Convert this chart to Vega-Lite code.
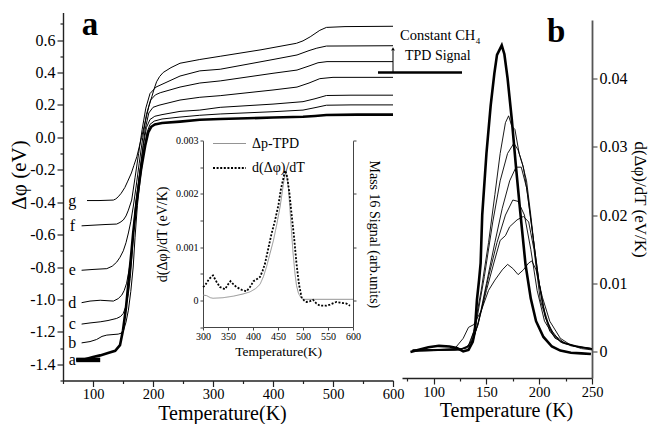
{
  "$schema": "https://vega.github.io/schema/vega-lite/v6.json",
  "width": 330,
  "height": 368,
  "autosize": {"type": "none"},
  "padding": {"left": 63, "top": 12.5, "right": 256, "bottom": 43.5},
  "config": {
    "view": {"stroke": null},
    "font": "Liberation Serif",
    "axis": {"labelFont": "Liberation Serif", "titleFont": "Liberation Serif", "labelColor": "#000", "titleColor": "#000", "titleFontWeight": "normal", "domainColor": "#222", "tickColor": "#222", "grid": false, "labelFlush": false, "labelOverlap": false, "domainWidth": 1.4, "tickWidth": 1.2},
    "text": {"font": "Liberation Serif", "color": "#000"},
    "legend": {"labelFont": "Liberation Serif", "labelColor": "#000"}
  },
  "datasets": {
    "dphi": [
      {"c":"a0","T":72,"v":-1.373},{"c":"a0","T":112,"v":-1.373},
      {"c":"a","T":72,"v":-1.372},{"c":"a","T":85,"v":-1.37},{"c":"a","T":100,"v":-1.355},{"c":"a","T":112,"v":-1.345},{"c":"a","T":125,"v":-1.33},{"c":"a","T":137,"v":-1.317},{"c":"a","T":145,"v":-1.282},{"c":"a","T":150,"v":-1.19},{"c":"a","T":155,"v":-1.05},{"c":"a","T":159,"v":-0.9},{"c":"a","T":163,"v":-0.75},{"c":"a","T":167,"v":-0.59},{"c":"a","T":173,"v":-0.387},{"c":"a","T":180,"v":-0.2},{"c":"a","T":187,"v":-0.05},{"c":"a","T":192,"v":0.03},{"c":"a","T":197,"v":0.065},{"c":"a","T":203,"v":0.08},{"c":"a","T":215,"v":0.088},{"c":"a","T":245,"v":0.097},{"c":"a","T":278,"v":0.108},{"c":"a","T":312,"v":0.113},{"c":"a","T":400,"v":0.122},{"c":"a","T":450,"v":0.127},{"c":"a","T":470,"v":0.132},{"c":"a","T":489,"v":0.138},{"c":"a","T":540,"v":0.14},{"c":"a","T":600,"v":0.14},
      {"c":"b","T":81,"v":-1.268},{"c":"b","T":95,"v":-1.26},{"c":"b","T":106,"v":-1.247},{"c":"b","T":115,"v":-1.228},{"c":"b","T":123,"v":-1.22},{"c":"b","T":135,"v":-1.216},{"c":"b","T":142,"v":-1.214},{"c":"b","T":147,"v":-1.208},{"c":"b","T":151,"v":-1.19},{"c":"b","T":155,"v":-1.14},{"c":"b","T":159,"v":-1.066},{"c":"b","T":163,"v":-0.95},{"c":"b","T":167,"v":-0.8},{"c":"b","T":170,"v":-0.62},{"c":"b","T":174,"v":-0.42},{"c":"b","T":179,"v":-0.25},{"c":"b","T":185,"v":-0.08},{"c":"b","T":190,"v":0.03},{"c":"b","T":195,"v":0.08},{"c":"b","T":202,"v":0.1},{"c":"b","T":215,"v":0.113},{"c":"b","T":245,"v":0.125},{"c":"b","T":278,"v":0.136},{"c":"b","T":312,"v":0.144},{"c":"b","T":400,"v":0.158},{"c":"b","T":450,"v":0.168},{"c":"b","T":470,"v":0.183},{"c":"b","T":489,"v":0.198},{"c":"b","T":530,"v":0.2},{"c":"b","T":600,"v":0.2},
      {"c":"c","T":81,"v":-1.152},{"c":"c","T":95,"v":-1.145},{"c":"c","T":112,"v":-1.138},{"c":"c","T":125,"v":-1.13},{"c":"c","T":139.5,"v":-1.117},{"c":"c","T":146,"v":-1.105},{"c":"c","T":150.5,"v":-1.086},{"c":"c","T":155,"v":-1.04},{"c":"c","T":159,"v":-0.963},{"c":"c","T":162,"v":-0.87},{"c":"c","T":164.5,"v":-0.757},{"c":"c","T":168,"v":-0.56},{"c":"c","T":172,"v":-0.4},{"c":"c","T":178,"v":-0.22},{"c":"c","T":184,"v":-0.05},{"c":"c","T":189,"v":0.06},{"c":"c","T":195,"v":0.11},{"c":"c","T":203,"v":0.13},{"c":"c","T":215,"v":0.14},{"c":"c","T":245,"v":0.16},{"c":"c","T":278,"v":0.168},{"c":"c","T":312,"v":0.185},{"c":"c","T":400,"v":0.205},{"c":"c","T":450,"v":0.22},{"c":"c","T":470,"v":0.238},{"c":"c","T":489,"v":0.258},{"c":"c","T":530,"v":0.26},{"c":"c","T":600,"v":0.26},
      {"c":"d","T":81,"v":-1.02},{"c":"d","T":95,"v":-1.01},{"c":"d","T":112,"v":-1.005},{"c":"d","T":125,"v":-1.008},{"c":"d","T":134,"v":-1.01},{"c":"d","T":142,"v":-0.995},{"c":"d","T":148,"v":-0.973},{"c":"d","T":152,"v":-0.945},{"c":"d","T":156,"v":-0.9},{"c":"d","T":160,"v":-0.82},{"c":"d","T":164.5,"v":-0.716},{"c":"d","T":167,"v":-0.6},{"c":"d","T":170,"v":-0.45},{"c":"d","T":175,"v":-0.3},{"c":"d","T":181,"v":-0.12},{"c":"d","T":187,"v":0.05},{"c":"d","T":193,"v":0.15},{"c":"d","T":200,"v":0.185},{"c":"d","T":210,"v":0.198},{"c":"d","T":245,"v":0.23},{"c":"d","T":278,"v":0.247},{"c":"d","T":312,"v":0.257},{"c":"d","T":400,"v":0.292},{"c":"d","T":440,"v":0.31},{"c":"d","T":460,"v":0.335},{"c":"d","T":478,"v":0.362},{"c":"d","T":500,"v":0.37},{"c":"d","T":600,"v":0.37},
      {"c":"e","T":81,"v":-0.82},{"c":"e","T":100,"v":-0.815},{"c":"e","T":123,"v":-0.81},{"c":"e","T":132,"v":-0.795},{"c":"e","T":139.5,"v":-0.77},{"c":"e","T":145,"v":-0.74},{"c":"e","T":150.5,"v":-0.7},{"c":"e","T":155,"v":-0.65},{"c":"e","T":159,"v":-0.59},{"c":"e","T":163,"v":-0.52},{"c":"e","T":167,"v":-0.43},{"c":"e","T":172,"v":-0.3},{"c":"e","T":177,"v":-0.16},{"c":"e","T":183,"v":0.0},{"c":"e","T":189,"v":0.14},{"c":"e","T":196,"v":0.23},{"c":"e","T":204,"v":0.262},{"c":"e","T":212,"v":0.275},{"c":"e","T":245,"v":0.31},{"c":"e","T":278,"v":0.335},{"c":"e","T":312,"v":0.348},{"c":"e","T":400,"v":0.395},{"c":"e","T":440,"v":0.415},{"c":"e","T":460,"v":0.44},{"c":"e","T":475,"v":0.46},{"c":"e","T":490,"v":0.467},{"c":"e","T":600,"v":0.467},
      {"c":"f","T":81,"v":-0.546},{"c":"f","T":100,"v":-0.542},{"c":"f","T":120,"v":-0.538},{"c":"f","T":139.5,"v":-0.535},{"c":"f","T":145,"v":-0.525},{"c":"f","T":150.5,"v":-0.51},{"c":"f","T":155,"v":-0.485},{"c":"f","T":159,"v":-0.449},{"c":"f","T":164.5,"v":-0.387},{"c":"f","T":170,"v":-0.25},{"c":"f","T":176,"v":-0.1},{"c":"f","T":182,"v":0.05},{"c":"f","T":188,"v":0.18},{"c":"f","T":195,"v":0.27},{"c":"f","T":205,"v":0.31},{"c":"f","T":245,"v":0.378},{"c":"f","T":278,"v":0.41},{"c":"f","T":312,"v":0.42},{"c":"f","T":400,"v":0.48},{"c":"f","T":440,"v":0.508},{"c":"f","T":460,"v":0.535},{"c":"f","T":473,"v":0.55},{"c":"f","T":489,"v":0.563},{"c":"f","T":600,"v":0.565},
      {"c":"g","T":90,"v":-0.39},{"c":"g","T":110,"v":-0.39},{"c":"g","T":134,"v":-0.387},{"c":"g","T":138,"v":-0.38},{"c":"g","T":142,"v":-0.367},{"c":"g","T":147,"v":-0.345},{"c":"g","T":153,"v":-0.31},{"c":"g","T":158,"v":-0.27},{"c":"g","T":164,"v":-0.22},{"c":"g","T":168,"v":-0.175},{"c":"g","T":173,"v":-0.12},{"c":"g","T":177,"v":-0.06},{"c":"g","T":181,"v":0.0},{"c":"g","T":185,"v":0.065},{"c":"g","T":189,"v":0.127},{"c":"g","T":193,"v":0.19},{"c":"g","T":198,"v":0.25},{"c":"g","T":202,"v":0.3},{"c":"g","T":206,"v":0.343},{"c":"g","T":211,"v":0.375},{"c":"g","T":217,"v":0.4},{"c":"g","T":230,"v":0.43},{"c":"g","T":245,"v":0.457},{"c":"g","T":278,"v":0.48},{"c":"g","T":312,"v":0.5},{"c":"g","T":380,"v":0.54},{"c":"g","T":439,"v":0.58},{"c":"g","T":450,"v":0.595},{"c":"g","T":462,"v":0.62},{"c":"g","T":470,"v":0.64},{"c":"g","T":478,"v":0.66},{"c":"g","T":489,"v":0.678},{"c":"g","T":520,"v":0.683},{"c":"g","T":600,"v":0.685}
    ],
    "inset": [
      {"s":"Δp-TPD","T":300,"v":0.0001},{"s":"Δp-TPD","T":307,"v":0.00009},{"s":"Δp-TPD","T":315,"v":0.00005},{"s":"Δp-TPD","T":320,"v":0.00004},{"s":"Δp-TPD","T":340,"v":0.00005},{"s":"Δp-TPD","T":361,"v":0.00008},{"s":"Δp-TPD","T":380,"v":0.00012},{"s":"Δp-TPD","T":394,"v":0.00016},{"s":"Δp-TPD","T":405,"v":0.00022},{"s":"Δp-TPD","T":414,"v":0.0003},{"s":"Δp-TPD","T":421,"v":0.00045},{"s":"Δp-TPD","T":427,"v":0.00063},{"s":"Δp-TPD","T":434,"v":0.00088},{"s":"Δp-TPD","T":441,"v":0.00113},{"s":"Δp-TPD","T":448,"v":0.00145},{"s":"Δp-TPD","T":454,"v":0.00175},{"s":"Δp-TPD","T":458,"v":0.002},{"s":"Δp-TPD","T":461,"v":0.0022},{"s":"Δp-TPD","T":465,"v":0.0024},{"s":"Δp-TPD","T":468,"v":0.0023},{"s":"Δp-TPD","T":471,"v":0.0021},{"s":"Δp-TPD","T":474,"v":0.0017},{"s":"Δp-TPD","T":477,"v":0.0013},{"s":"Δp-TPD","T":480,"v":0.0009},{"s":"Δp-TPD","T":484,"v":0.0005},{"s":"Δp-TPD","T":487,"v":0.00028},{"s":"Δp-TPD","T":491,"v":0.00013},{"s":"Δp-TPD","T":496,"v":0.00005},{"s":"Δp-TPD","T":501,"v":0.00002},{"s":"Δp-TPD","T":550,"v":0.00002},{"s":"Δp-TPD","T":600,"v":0.00002},
      {"s":"d(Δφ)/dT","T":300,"v":0.00025},{"s":"d(Δφ)/dT","T":304,"v":0.00028},{"s":"d(Δφ)/dT","T":312,"v":0.0004},{"s":"d(Δφ)/dT","T":320,"v":0.00047},{"s":"d(Δφ)/dT","T":327,"v":0.00035},{"s":"d(Δφ)/dT","T":334,"v":0.00025},{"s":"d(Δφ)/dT","T":344,"v":0.00021},{"s":"d(Δφ)/dT","T":350,"v":0.0003},{"s":"d(Δφ)/dT","T":355,"v":0.00036},{"s":"d(Δφ)/dT","T":361,"v":0.0003},{"s":"d(Δφ)/dT","T":367,"v":0.00025},{"s":"d(Δφ)/dT","T":377,"v":0.0002},{"s":"d(Δφ)/dT","T":387,"v":0.00017},{"s":"d(Δφ)/dT","T":394,"v":0.00025},{"s":"d(Δφ)/dT","T":401,"v":0.00036},{"s":"d(Δφ)/dT","T":408,"v":0.0004},{"s":"d(Δφ)/dT","T":414,"v":0.00044},{"s":"d(Δφ)/dT","T":419,"v":0.00055},{"s":"d(Δφ)/dT","T":424,"v":0.00069},{"s":"d(Δφ)/dT","T":430,"v":0.00095},{"s":"d(Δφ)/dT","T":437,"v":0.00125},{"s":"d(Δφ)/dT","T":444,"v":0.0015},{"s":"d(Δφ)/dT","T":451,"v":0.0018},{"s":"d(Δφ)/dT","T":456,"v":0.0021},{"s":"d(Δφ)/dT","T":461,"v":0.0023},{"s":"d(Δφ)/dT","T":464,"v":0.00244},{"s":"d(Δφ)/dT","T":467,"v":0.00238},{"s":"d(Δφ)/dT","T":469,"v":0.00228},{"s":"d(Δφ)/dT","T":473,"v":0.002},{"s":"d(Δφ)/dT","T":477,"v":0.00163},{"s":"d(Δφ)/dT","T":482,"v":0.0012},{"s":"d(Δφ)/dT","T":487,"v":0.00069},{"s":"d(Δφ)/dT","T":492,"v":0.0003},{"s":"d(Δφ)/dT","T":497,"v":0.00006},{"s":"d(Δφ)/dT","T":502,"v":0.0},{"s":"d(Δφ)/dT","T":507,"v":-0.00003},{"s":"d(Δφ)/dT","T":513,"v":-0.00002},{"s":"d(Δφ)/dT","T":520,"v":0.00001},{"s":"d(Δφ)/dT","T":527,"v":-0.00006},{"s":"d(Δφ)/dT","T":534,"v":-0.0001},{"s":"d(Δφ)/dT","T":541,"v":-0.0001},{"s":"d(Δφ)/dT","T":547,"v":-0.0001},{"s":"d(Δφ)/dT","T":554,"v":-0.00008},{"s":"d(Δφ)/dT","T":561,"v":-0.00005},{"s":"d(Δφ)/dT","T":567,"v":-0.00003},{"s":"d(Δφ)/dT","T":574,"v":-0.00004},{"s":"d(Δφ)/dT","T":580,"v":-0.00005},{"s":"d(Δφ)/dT","T":587,"v":-0.00006},{"s":"d(Δφ)/dT","T":594,"v":-0.0001}
    ],
    "deriv": [
      {"c":"a","T":78,"v":0.0},{"c":"a","T":85,"v":0.0003},{"c":"a","T":95,"v":0.0007},{"c":"a","T":105,"v":0.0009},{"c":"a","T":115,"v":0.0008},{"c":"a","T":122,"v":0.0006},{"c":"a","T":128,"v":0.0001},{"c":"a","T":133,"v":0.0003},{"c":"a","T":137,"v":0.0015},{"c":"a","T":139,"v":0.003},{"c":"a","T":141,"v":0.0076},{"c":"a","T":143,"v":0.0105},{"c":"a","T":144.5,"v":0.013},{"c":"a","T":146,"v":0.02},{"c":"a","T":150,"v":0.029},{"c":"a","T":154,"v":0.036},{"c":"a","T":157.5,"v":0.0407},{"c":"a","T":160,"v":0.0434},{"c":"a","T":164.5,"v":0.0448},{"c":"a","T":167,"v":0.0435},{"c":"a","T":170,"v":0.04},{"c":"a","T":174,"v":0.034},{"c":"a","T":178,"v":0.027},{"c":"a","T":182,"v":0.0205},{"c":"a","T":187,"v":0.0128},{"c":"a","T":192,"v":0.0078},{"c":"a","T":197,"v":0.0045},{"c":"a","T":204,"v":0.0022},{"c":"a","T":212,"v":0.0008},{"c":"a","T":220,"v":0.0002},{"c":"a","T":230,"v":-0.0001},{"c":"a","T":240,"v":-0.0002},{"c":"a","T":249,"v":-0.0003},
      {"c":"b","T":80,"v":0.0002},{"c":"b","T":100,"v":0.0003},{"c":"b","T":120,"v":0.0003},{"c":"b","T":132,"v":0.0006},{"c":"b","T":138,"v":0.003},{"c":"b","T":145,"v":0.009},{"c":"b","T":152,"v":0.016},{"c":"b","T":158,"v":0.023},{"c":"b","T":163,"v":0.029},{"c":"b","T":168,"v":0.0335},{"c":"b","T":171,"v":0.0345},{"c":"b","T":174,"v":0.033},{"c":"b","T":177,"v":0.0325},{"c":"b","T":181,"v":0.029},{"c":"b","T":185,"v":0.027},{"c":"b","T":189,"v":0.023},{"c":"b","T":194,"v":0.017},{"c":"b","T":200,"v":0.01},{"c":"b","T":206,"v":0.005},{"c":"b","T":213,"v":0.0025},{"c":"b","T":222,"v":0.0013},{"c":"b","T":235,"v":0.0008},{"c":"b","T":250,"v":0.0005},
      {"c":"c","T":80,"v":0.0003},{"c":"c","T":100,"v":0.0003},{"c":"c","T":125,"v":0.0004},{"c":"c","T":134,"v":0.001},{"c":"c","T":140,"v":0.004},{"c":"c","T":148,"v":0.011},{"c":"c","T":156,"v":0.019},{"c":"c","T":163,"v":0.025},{"c":"c","T":170,"v":0.029},{"c":"c","T":176,"v":0.0305},{"c":"c","T":180,"v":0.0295},{"c":"c","T":184,"v":0.0275},{"c":"c","T":188,"v":0.025},{"c":"c","T":192,"v":0.02},{"c":"c","T":197,"v":0.013},{"c":"c","T":203,"v":0.007},{"c":"c","T":210,"v":0.0035},{"c":"c","T":220,"v":0.0015},{"c":"c","T":235,"v":0.0009},{"c":"c","T":250,"v":0.0005},
      {"c":"d","T":80,"v":0.0001},{"c":"d","T":100,"v":0.0002},{"c":"d","T":125,"v":0.0003},{"c":"d","T":135,"v":0.001},{"c":"d","T":142,"v":0.004},{"c":"d","T":150,"v":0.01},{"c":"d","T":158,"v":0.016},{"c":"d","T":165,"v":0.021},{"c":"d","T":172,"v":0.025},{"c":"d","T":178,"v":0.027},{"c":"d","T":183,"v":0.027},{"c":"d","T":188,"v":0.024},{"c":"d","T":194,"v":0.017},{"c":"d","T":200,"v":0.01},{"c":"d","T":206,"v":0.005},{"c":"d","T":214,"v":0.0025},{"c":"d","T":225,"v":0.0012},{"c":"d","T":240,"v":0.0007},{"c":"d","T":250,"v":0.0005},
      {"c":"e","T":80,"v":0.0003},{"c":"e","T":110,"v":0.0004},{"c":"e","T":130,"v":0.0005},{"c":"e","T":138,"v":0.002},{"c":"e","T":145,"v":0.006},{"c":"e","T":152,"v":0.011},{"c":"e","T":160,"v":0.016},{"c":"e","T":168,"v":0.02},{"c":"e","T":175,"v":0.0222},{"c":"e","T":180,"v":0.022},{"c":"e","T":186,"v":0.02},{"c":"e","T":192,"v":0.015},{"c":"e","T":198,"v":0.009},{"c":"e","T":205,"v":0.0045},{"c":"e","T":215,"v":0.002},{"c":"e","T":230,"v":0.0009},{"c":"e","T":250,"v":0.0004},
      {"c":"f","T":80,"v":0.0001},{"c":"f","T":100,"v":0.0002},{"c":"f","T":125,"v":0.0003},{"c":"f","T":135,"v":0.001},{"c":"f","T":142,"v":0.004},{"c":"f","T":150,"v":0.009},{"c":"f","T":157,"v":0.013},{"c":"f","T":163,"v":0.0163},{"c":"f","T":168,"v":0.017},{"c":"f","T":172,"v":0.0183},{"c":"f","T":179,"v":0.0193},{"c":"f","T":185,"v":0.0198},{"c":"f","T":190,"v":0.019},{"c":"f","T":195,"v":0.015},{"c":"f","T":201,"v":0.0076},{"c":"f","T":210,"v":0.003},{"c":"f","T":220,"v":0.0015},{"c":"f","T":235,"v":0.0008},{"c":"f","T":250,"v":0.0004},
      {"c":"g","T":80,"v":0.0002},{"c":"g","T":100,"v":0.0003},{"c":"g","T":120,"v":0.0005},{"c":"g","T":128,"v":0.002},{"c":"g","T":133,"v":0.0036},{"c":"g","T":138,"v":0.004},{"c":"g","T":145,"v":0.006},{"c":"g","T":152,"v":0.009},{"c":"g","T":158,"v":0.0105},{"c":"g","T":165,"v":0.012},{"c":"g","T":170,"v":0.0128},{"c":"g","T":175,"v":0.0122},{"c":"g","T":180,"v":0.0113},{"c":"g","T":185,"v":0.012},{"c":"g","T":190,"v":0.013},{"c":"g","T":193,"v":0.0133},{"c":"g","T":197,"v":0.012},{"c":"g","T":203,"v":0.008},{"c":"g","T":210,"v":0.0045},{"c":"g","T":220,"v":0.002},{"c":"g","T":230,"v":0.001},{"c":"g","T":240,"v":0.0005},{"c":"g","T":250,"v":0.0003}
    ]
  },
  "resolve": {"scale": {"x": "independent", "y": "independent"}, "axis": {"x": "independent", "y": "independent"}},
  "layer": [
    {
      "data": {"name": "dphi"},
      "transform": [{"filter": "datum.c != 'a' && datum.c != 'a0'"}],
      "mark": {"type": "line", "color": "#000", "strokeWidth": 1},
      "encoding": {
        "x": {"field": "T", "type": "quantitative", "scale": {"domain": [50, 600]},
          "axis": {"orient": "bottom", "values": [50,100,150,200,250,300,350,400,450,500,550,600], "labelExpr": "datum.value % 100 == 0 ? datum.label : ''", "tickSize": {"condition": {"test": "datum.value % 100 == 0", "value": 6}, "value": 3}, "labelFontSize": 14.5, "labelPadding": 1, "title": "Temperature(K)", "titleFontSize": 20, "titlePadding": 2, "titleX": 159}},
        "y": {"field": "v", "type": "quantitative", "scale": {"domain": [-1.5, 0.77]},
          "axis": {"orient": "left", "values": [-1.5,-1.4,-1.3,-1.2,-1.1,-1.0,-0.9,-0.8,-0.7,-0.6,-0.5,-0.4,-0.3,-0.2,-0.1,0,0.1,0.2,0.3,0.4,0.5,0.6,0.7], "labelExpr": "round(datum.value*10) % 2 == 0 ? replace(format(datum.value, '.1f'), '\u2212', '-') : ''", "tickSize": {"condition": {"test": "round(datum.value*10) % 2 == 0", "value": 6}, "value": 3}, "labelFontSize": 16, "labelPadding": 2, "title": "Δφ (eV)", "titleFontSize": 21, "titlePadding": 0, "titleY": 162}},
        "detail": {"field": "c"}
      }
    },
    {
      "data": {"name": "dphi"},
      "transform": [{"filter": "datum.c == 'a'"}],
      "mark": {"type": "line", "color": "#000", "strokeWidth": 2.6},
      "encoding": {
        "x": {"field": "T", "type": "quantitative", "scale": {"domain": [50, 600]}, "axis": null},
        "y": {"field": "v", "type": "quantitative", "scale": {"domain": [-1.5, 0.77]}, "axis": null}
      }
    },
    {
      "data": {"name": "dphi"},
      "transform": [{"filter": "datum.c == 'a0'"}],
      "mark": {"type": "line", "color": "#000", "strokeWidth": 4.5},
      "encoding": {
        "x": {"field": "T", "type": "quantitative", "scale": {"domain": [50, 600]}, "axis": null},
        "y": {"field": "v", "type": "quantitative", "scale": {"domain": [-1.5, 0.77]}, "axis": null}
      }
    },
    {
      "data": {"name": "dphi"},
      "transform": [{"filter": "datum.c != 'a0'"}, {"joinaggregate": [{"op": "min", "field": "T", "as": "T0"}], "groupby": ["c"]}, {"filter": "datum.T == datum.T0"}],
      "mark": {"type": "text", "fontSize": 16, "align": "center", "baseline": "middle"},
      "encoding": {
        "x": {"datum": 65.5, "type": "quantitative", "scale": {"domain": [50, 600]}, "axis": null},
        "y": {"field": "v", "type": "quantitative", "scale": {"domain": [-1.5, 0.77]}, "axis": null},
        "text": {"field": "c"}
      }
    },
    {
      "data": {"values": [{}]},
      "mark": {"type": "rule", "color": "#000", "strokeWidth": 2.5},
      "encoding": {
        "x": {"datum": 575, "type": "quantitative", "scale": {"domain": [50, 600]}, "axis": null},
        "x2": {"datum": 715},
        "y": {"datum": 0.3995, "type": "quantitative", "scale": {"domain": [-1.5, 0.77]}, "axis": null}
      }
    },
    {
      "data": {"values": [{}]},
      "mark": {"type": "rule", "color": "#000", "strokeWidth": 1},
      "encoding": {
        "x": {"datum": 600, "type": "quantitative", "scale": {"domain": [50, 600]}, "axis": null},
        "y": {"datum": 0.4, "type": "quantitative", "scale": {"domain": [-1.5, 0.77]}, "axis": null},
        "y2": {"datum": 0.535}
      }
    },
    {
      "data": {"values": [{}]},
      "mark": {"type": "point", "shape": "triangle-up", "filled": true, "color": "#000", "size": 14, "opacity": 1},
      "encoding": {
        "x": {"datum": 600, "type": "quantitative", "scale": {"domain": [50, 600]}, "axis": null},
        "y": {"datum": 0.545, "type": "quantitative", "scale": {"domain": [-1.5, 0.77]}, "axis": null}
      }
    },
    {
      "data": {"values": [{}]},
      "mark": {"type": "text", "text": "Constant CH", "fontSize": 14.5, "align": "left", "baseline": "alphabetic"},
      "encoding": {
        "x": {"datum": 611.7, "type": "quantitative", "scale": {"domain": [50, 600]}, "axis": null},
        "y": {"datum": 0.6, "type": "quantitative", "scale": {"domain": [-1.5, 0.77]}, "axis": null}
      }
    },
    {
      "data": {"values": [{}]},
      "mark": {"type": "text", "text": "4", "fontSize": 9, "align": "left", "baseline": "alphabetic"},
      "encoding": {
        "x": {"datum": 738, "type": "quantitative", "scale": {"domain": [50, 600]}, "axis": null},
        "y": {"datum": 0.575, "type": "quantitative", "scale": {"domain": [-1.5, 0.77]}, "axis": null}
      }
    },
    {
      "data": {"values": [{}]},
      "mark": {"type": "text", "text": "TPD Signal", "fontSize": 14, "align": "left", "baseline": "alphabetic"},
      "encoding": {
        "x": {"datum": 620, "type": "quantitative", "scale": {"domain": [50, 600]}, "axis": null},
        "y": {"datum": 0.4766, "type": "quantitative", "scale": {"domain": [-1.5, 0.77]}, "axis": null}
      }
    },
    {
      "data": {"values": [{}]},
      "mark": {"type": "text", "text": "a", "fontSize": 33, "fontWeight": "bold", "align": "center", "baseline": "alphabetic"},
      "encoding": {
        "x": {"datum": 95, "type": "quantitative", "scale": {"domain": [50, 600]}, "axis": null},
        "y": {"datum": 0.63, "type": "quantitative", "scale": {"domain": [-1.5, 0.77]}, "axis": null}
      }
    },
    {
      "data": {"name": "inset"},
      "mark": {"type": "line", "strokeCap": "butt"},
      "encoding": {
        "x": {"field": "T", "type": "quantitative", "scale": {"domain": [300, 600], "range": [140, 290]},
          "axis": {"orient": "bottom", "offset": -53.5, "values": [300,350,400,450,500,550,600], "tickSize": 3, "labelFontSize": 10, "labelPadding": 1, "domainWidth": 1, "tickWidth": 1, "domainColor": "#444", "tickColor": "#444", "title": "Temperature(K)", "titleFontSize": 13.5, "titlePadding": 3}},
        "y": {"field": "v", "type": "quantitative", "scale": {"domain": [-0.0005, 0.003], "range": [314.5, 128.2]},
          "axis": {"orient": "left", "offset": -140, "values": [-0.0005,0,0.0005,0.001,0.0015,0.002,0.0025,0.003], "labelExpr": "abs(round(datum.value*2000)) % 2 == 0 ? (datum.value == 0 ? '0' : format(datum.value, '.3f')) : ''", "tickSize": 3, "labelFontSize": 10, "labelPadding": 2, "domainWidth": 1, "tickWidth": 1, "domainColor": "#444", "tickColor": "#444", "title": "d(Δφ)/dT (eV/K)", "titleFontSize": 14, "titlePadding": 6}},
        "color": {"field": "s", "type": "nominal", "scale": {"domain": ["Δp-TPD", "d(Δφ)/dT"], "range": ["#888888", "#000000"]},
          "legend": {"orient": "none", "legendX": 149, "legendY": 114, "title": null, "direction": "vertical", "symbolType": "stroke", "symbolSize": 1089, "labelFontSize": 14, "labelOffset": 5, "rowPadding": -16, "padding": 0}},
        "strokeDash": {"field": "s", "type": "nominal", "scale": {"domain": ["Δp-TPD", "d(Δφ)/dT"], "range": [[1, 0], [2, 1.6]]}},
        "strokeWidth": {"field": "s", "type": "nominal", "scale": {"domain": ["Δp-TPD", "d(Δφ)/dT"], "range": [0.9, 1.8]}}
      }
    },
    {
      "data": {"name": "inset"},
      "mark": {"type": "line", "opacity": 0},
      "encoding": {
        "x": {"field": "T", "type": "quantitative", "scale": {"domain": [300, 600], "range": [140, 290]}, "axis": null},
        "y": {"field": "v", "type": "quantitative", "scale": {"domain": [-0.0005, 0.003], "range": [314.5, 128.2]},
          "axis": {"orient": "right", "offset": -40, "values": [0, 0.001, 0.002, 0.003], "labels": false, "tickSize": 3, "domainWidth": 1, "tickWidth": 1, "domainColor": "#444", "tickColor": "#444", "title": "Mass 16 Signal (arb.units)", "titleFontSize": 14, "titlePadding": 10}},
        "detail": {"field": "s"}
      }
    },
    {
      "data": {"name": "deriv"},
      "transform": [{"filter": "datum.c != 'a'"}],
      "mark": {"type": "line", "color": "#000", "strokeWidth": 0.9},
      "encoding": {
        "x": {"field": "T", "type": "quantitative", "scale": {"domain": [70, 250], "range": [339, 529]},
          "axis": {"orient": "bottom", "offset": -2.5, "values": [75,100,125,150,175,200,225,250], "labelExpr": "datum.value % 50 == 0 ? datum.label : ''", "tickSize": {"condition": {"test": "datum.value % 50 == 0", "value": 6}, "value": 3}, "labelFontSize": 14.5, "labelPadding": 1, "title": "Temperature (K)", "titleFontSize": 20, "titlePadding": 2, "titleX": 443}},
        "y": {"field": "v", "type": "quantitative", "scale": {"domain": [-0.0038, 0.0485], "range": [365.5, 7.5]},
          "axis": {"orient": "right", "offset": 199, "values": [0, 0.01, 0.02, 0.03, 0.04], "labelExpr": "datum.value == 0 ? '0' : format(datum.value, '.2f')", "tickSize": 5, "labelFontSize": 16, "labelPadding": 2, "domainColor": "#555", "tickColor": "#555", "domainWidth": 1.8, "title": "d(Δφ)/dT (eV/K)", "titleFontSize": 17, "titlePadding": 3}},
        "detail": {"field": "c"}
      }
    },
    {
      "data": {"name": "deriv"},
      "transform": [{"filter": "datum.c == 'a'"}],
      "mark": {"type": "line", "color": "#000", "strokeWidth": 2.6},
      "encoding": {
        "x": {"field": "T", "type": "quantitative", "scale": {"domain": [70, 250], "range": [339, 529]}, "axis": null},
        "y": {"field": "v", "type": "quantitative", "scale": {"domain": [-0.0038, 0.0485], "range": [365.5, 7.5]}, "axis": null}
      }
    },
    {
      "data": {"values": [{}]},
      "mark": {"type": "text", "text": "b", "fontSize": 33, "fontWeight": "bold", "align": "center", "baseline": "alphabetic"},
      "encoding": {
        "x": {"datum": 216, "type": "quantitative", "scale": {"domain": [70, 250], "range": [339, 529]}, "axis": null},
        "y": {"datum": 0.04529, "type": "quantitative", "scale": {"domain": [-0.0038, 0.0485], "range": [365.5, 7.5]}, "axis": null}
      }
    }
  ]
}
